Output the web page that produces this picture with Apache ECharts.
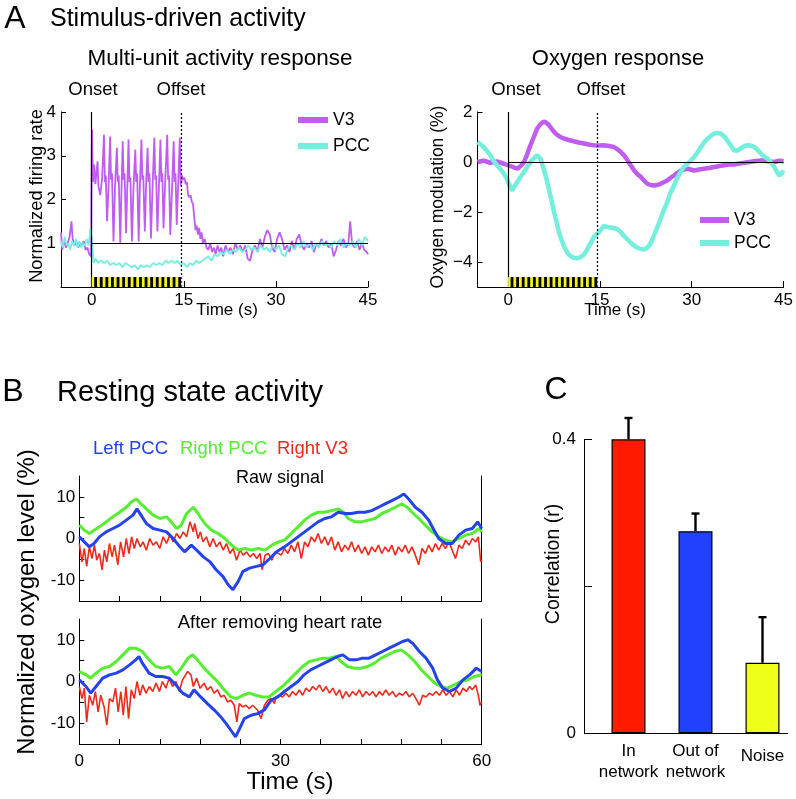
<!DOCTYPE html>
<html>
<head>
<meta charset="utf-8">
<script src="https://cdn.jsdelivr.net/npm/echarts@6/dist/echarts.min.js"></script>
<style>
html, body { margin: 0; padding: 0; background: #fff; }
#main { width: 796px; height: 799px; }
</style>
</head>
<body>
<div id="main"></div>
<script>
// ---- A: multi-unit activity (time s, normalized firing rate)
var muaV3 = [
	[-5, 1.25], [-4.8, 0.85], [-4.5, 1.05], [-4.2, 0.9], [-3.9, 1.0], [-3.6, 1.15], [-3.3, 1.5], [-3.1, 1.1], [-2.8, 0.95],
	[-2.5, 1.05], [-2.2, 0.9], [-1.9, 1.0], [-1.6, 0.95], [-1.3, 1.05], [-1.0, 0.85], [-0.7, 0.9], [-0.4, 0.75], [-0.1, 0.7],
	[0.0, 2.9], [0.05, 3.6], [0.2, 2.4], [0.4, 2.8], [0.6, 2.35], [0.95, 2.87], [1.1, 2.3], [1.4, 2.1], [1.7, 2.5],
	[2.0, 3.48], [2.15, 2.4], [2.3, 2.55], [2.5, 1.5], [2.75, 2.3],
	[3.0, 3.44], [3.15, 2.45], [3.3, 2.6], [3.55, 1.04], [3.8, 2.3],
	[4.1, 3.18], [4.25, 2.4], [4.4, 2.55], [4.65, 1.0], [4.85, 2.2],
	[5.05, 3.33], [5.2, 2.45], [5.35, 2.6], [5.6, 1.23], [5.8, 2.3],
	[6.0, 3.37], [6.15, 2.4], [6.3, 2.5], [6.55, 1.04], [6.8, 2.25],
	[7.1, 3.14], [7.25, 2.4], [7.4, 2.6], [7.65, 1.04], [7.85, 2.3],
	[8.1, 3.37], [8.25, 2.45], [8.4, 2.55], [8.65, 1.27], [8.85, 2.3],
	[9.1, 3.18], [9.25, 2.4], [9.4, 2.6], [9.65, 1.11], [9.9, 2.25],
	[10.2, 3.41], [10.35, 2.45], [10.5, 2.55], [10.7, 1.27], [10.95, 2.3],
	[11.2, 3.37], [11.35, 2.4], [11.5, 2.6], [11.7, 1.34], [11.95, 2.35],
	[12.3, 3.48], [12.45, 2.45], [12.6, 2.55], [12.8, 1.19], [13.1, 2.3],
	[13.35, 3.33], [13.5, 2.4], [13.65, 2.6], [13.85, 1.42], [14.1, 2.4],
	[14.35, 3.41], [14.5, 2.3], [14.7, 2.55], [14.9, 2.45], [15.1, 2.5], [15.3, 2.35], [15.5, 2.4], [15.7, 2.1],
	[15.9, 2.05], [16.1, 2.1], [16.3, 1.95], [16.5, 1.9], [16.7, 1.6], [16.9, 1.3], [17.1, 1.4], [17.3, 1.2],
	[17.5, 1.35], [17.7, 1.1], [17.9, 1.25], [18.1, 1.0], [18.4, 1.1], [18.7, 0.9], [19.0, 0.85], [19.3, 1.0],
	[19.6, 0.8], [19.9, 0.9], [20.2, 0.75], [20.5, 0.95], [20.8, 0.8], [21.1, 0.9], [21.4, 0.7], [21.8, 0.95],
	[22.2, 0.8], [22.6, 0.9], [23.0, 0.75], [23.4, 1.0], [23.8, 0.85], [24.2, 0.95], [24.6, 0.8], [25.0, 0.95],
	[25.4, 0.65], [25.8, 0.6], [26.2, 0.85], [26.6, 0.95], [27.0, 0.8], [27.4, 1.1], [27.8, 0.9], [28.2, 1.15],
	[28.6, 1.3], [29.0, 1.2], [29.4, 0.9], [29.8, 0.8], [30.2, 1.1], [30.6, 1.25], [31.0, 1.1], [31.4, 0.85],
	[31.8, 0.95], [32.2, 0.8], [32.6, 1.05], [33.0, 0.85], [33.4, 1.1], [33.8, 1.2], [34.2, 0.95], [34.6, 0.85],
	[35.0, 1.0], [35.4, 0.9], [35.8, 1.05], [36.2, 0.8], [36.6, 1.0], [37.0, 0.9], [37.4, 1.1], [37.8, 0.95],
	[38.2, 1.05], [38.6, 0.9], [39.0, 1.0], [39.4, 0.7], [39.8, 0.85], [40.2, 1.05], [40.6, 0.95], [41.0, 1.1],
	[41.4, 0.9], [41.8, 1.0], [42.1, 1.5], [42.4, 1.0], [42.8, 0.9], [43.2, 1.05], [43.6, 0.85], [44.0, 1.0],
	[44.4, 0.85], [44.8, 0.8], [45, 0.75]
];
var muaPCC = [
	[-5, 1.05], [-4.7, 0.9], [-4.4, 1.15], [-4.1, 0.95], [-3.8, 1.0], [-3.5, 0.85], [-3.2, 1.05], [-2.9, 0.95],
	[-2.6, 1.1], [-2.3, 0.9], [-2.0, 1.05], [-1.7, 0.9], [-1.4, 1.0], [-1.1, 0.95], [-0.8, 1.1], [-0.5, 0.95],
	[-0.2, 1.35], [0.1, 1.0], [0.3, 0.55], [0.6, 0.65], [1.0, 0.55], [1.5, 0.6], [2.0, 0.55], [2.5, 0.6], [3.0, 0.5],
	[3.5, 0.55], [4.0, 0.5], [4.5, 0.55], [5.0, 0.45], [5.5, 0.55], [6.0, 0.5], [6.5, 0.45], [7.0, 0.5], [7.5, 0.4],
	[8.0, 0.5], [8.5, 0.45], [9.0, 0.5], [9.5, 0.45], [10.0, 0.55], [10.5, 0.5], [11.0, 0.55], [11.5, 0.5], [12.0, 0.6],
	[12.5, 0.55], [13.0, 0.6], [13.5, 0.55], [14.0, 0.6], [14.5, 0.5], [15.0, 0.55], [15.5, 0.45], [16.0, 0.55],
	[16.5, 0.5], [17.0, 0.6], [17.5, 0.55], [18.0, 0.6], [18.5, 0.65], [19.0, 0.7], [19.5, 0.6], [20.0, 0.75],
	[20.5, 0.7], [21.0, 0.8], [21.5, 0.75], [22.0, 0.85], [22.5, 0.75], [23.0, 0.85], [23.5, 0.8], [24.0, 0.9],
	[24.5, 0.8], [25.0, 0.85], [25.5, 0.95], [26.0, 0.85], [26.5, 0.9], [27.0, 0.8], [27.5, 0.95], [28.0, 0.85],
	[28.5, 0.9], [29.0, 0.8], [29.5, 0.95], [30.0, 0.85], [30.5, 0.95], [31.0, 0.75], [31.5, 0.7], [32.0, 0.9],
	[32.5, 0.95], [33.0, 0.85], [33.5, 1.0], [34.0, 0.9], [34.5, 1.05], [35.0, 0.9], [35.5, 1.0], [36.0, 0.85],
	[36.5, 1.0], [37.0, 0.9], [37.5, 1.05], [38.0, 0.95], [38.5, 1.0], [39.0, 0.9], [39.5, 1.05], [40.0, 0.95],
	[40.5, 1.1], [41.0, 0.9], [41.5, 1.0], [42.0, 0.95], [42.5, 1.05], [43.0, 0.9], [43.5, 1.1], [44.0, 0.95],
	[44.5, 1.15], [45.0, 1.05]
];

// ---- A: oxygen response (time s, %)
var oxyV3 = [
	[-5, 0], [-4, 0.05], [-2.9, -0.03], [-1.8, 0.02], [-0.7, -0.07], [0, -0.13], [0.8, -0.2], [1.5, -0.27], [2.1, -0.15],
	[2.6, 0], [3.1, 0.3], [3.65, 0.67], [4.2, 1.0], [4.75, 1.34], [5.3, 1.52], [5.8, 1.61], [6.2, 1.58], [6.65, 1.48],
	[7.2, 1.3], [7.75, 1.14], [8.4, 1.02], [9.1, 0.94], [9.9, 0.88], [10.7, 0.83], [11.5, 0.78], [12.4, 0.74],
	[13.2, 0.7], [14.0, 0.67], [14.8, 0.66], [15.65, 0.67], [16.5, 0.64], [17.3, 0.6], [17.9, 0.5], [18.4, 0.4],
	[19.0, 0.25], [19.5, 0.07], [20.0, -0.12], [20.6, -0.34], [21.1, -0.48], [21.7, -0.6], [22.2, -0.74],
	[22.75, -0.87], [23.3, -0.92], [23.8, -0.94], [24.4, -0.92], [24.9, -0.87], [25.5, -0.8], [26, -0.74],
	[26.5, -0.64], [27.1, -0.54], [27.6, -0.44], [28.2, -0.34], [28.7, -0.3], [29.3, -0.27], [29.8, -0.3],
	[30.4, -0.34], [31.2, -0.3], [32, -0.27], [32.8, -0.24], [33.7, -0.2], [34.5, -0.16], [35.3, -0.13],
	[36.1, -0.1], [36.9, -0.1], [37.7, -0.06], [38.6, -0.03], [39.4, 0], [40.2, 0.03], [41, 0.05], [41.8, 0.07],
	[42.6, 0.02], [43.5, 0], [44.3, 0.05], [45, 0.03]
];
var oxyPCC = [
	[-5, 0.8], [-4.5, 0.7], [-4, 0.6], [-3.5, 0.45], [-2.9, 0.27], [-2.4, 0.05], [-1.8, -0.13], [-1.2, -0.3],
	[-0.7, -0.47], [-0.3, -0.62], [0, -0.8], [0.35, -1.0], [0.65, -1.14], [1.0, -1.0], [1.5, -0.8], [2.0, -0.6],
	[2.6, -0.4], [3.1, -0.2], [3.65, 0], [4.2, 0.15], [4.75, 0.27], [5.3, 0.13], [5.8, -0.27], [6.2, -0.6],
	[6.65, -1.07], [7.1, -1.55], [7.5, -2.0], [7.9, -2.4], [8.3, -2.8], [8.7, -3.1], [9.1, -3.36], [9.5, -3.55],
	[9.9, -3.7], [10.3, -3.78], [10.7, -3.83], [11.2, -3.85], [11.6, -3.83], [12.0, -3.78], [12.4, -3.7],
	[12.8, -3.55], [13.2, -3.36], [13.6, -3.2], [14.0, -3.0], [14.4, -2.9], [14.8, -2.82], [15.2, -2.7],
	[15.65, -2.55], [16.2, -2.6], [16.75, -2.62], [17.3, -2.65], [17.8, -2.68], [18.4, -2.8], [18.9, -2.95],
	[19.5, -3.1], [20, -3.22], [20.6, -3.35], [21.1, -3.42], [21.7, -3.48], [22.2, -3.5], [22.6, -3.45],
	[23, -3.36], [23.4, -3.2], [23.8, -2.95], [24.3, -2.65], [24.9, -2.28], [25.4, -1.95], [26, -1.6],
	[26.5, -1.25], [27.1, -0.94], [27.6, -0.65], [28.2, -0.4], [28.7, -0.2], [29.3, -0.07], [29.8, 0.05],
	[30.4, 0.2], [31, 0.4], [31.5, 0.6], [32, 0.78], [32.6, 0.94], [33.2, 1.06], [33.7, 1.14], [34.2, 1.16],
	[34.75, 1.14], [35.3, 1.02], [35.8, 0.87], [36.4, 0.65], [36.9, 0.47], [37.4, 0.45], [38, 0.54], [38.5, 0.62],
	[39.1, 0.67], [39.6, 0.66], [40.2, 0.6], [40.7, 0.5], [41.3, 0.34], [41.8, 0.22], [42.4, 0.13], [42.9, 0],
	[43.5, -0.2], [43.9, -0.38], [44.3, -0.54], [44.7, -0.45], [45, -0.34]
];
var stimOn = 0, stimOff = 14.6, stimFlashes = 16;

// ---- B: resting state, raw signal (time s, %)
var rawLeftPCC = [
	[0, 0.4], [0.75, -0.8], [1.5, -2.0], [2.2, -1.2], [3, 0.4], [4, 1.6], [5, 2.4], [6, 3.2], [7, 4.4], [8, 5.6],
	[8.6, 7.1], [9.2, 5.6], [10, 3.6], [11, 2.4], [12, 2.0], [13, 1.6], [14, 0], [15, -2.0], [15.7, -3.2],
	[16.7, -1.6], [17.5, -2.8], [18.5, -4.4], [19.5, -5.6], [20.4, -7.5], [21.4, -9.1], [22.2, -11.1],
	[22.9, -12.3], [23.7, -10.3], [24.4, -7.9], [25.4, -7.1], [26.4, -6.7], [27.4, -6.3], [28.4, -4.8],
	[29.4, -3.2], [30.6, -2.0], [31.6, -0.8], [32.6, 0.4], [33.6, 1.6], [34.6, 2.8], [35.6, 4.0], [36.6, 4.8],
	[37.6, 5.2], [38.6, 6.3], [39.6, 6.0], [40.6, 6.0], [41.6, 6.3], [42.6, 6.3], [43.6, 6.7], [44.6, 7.5],
	[45.6, 8.3], [46.6, 9.1], [47.6, 9.9], [48.4, 10.7], [49.1, 9.5], [50.1, 7.5], [51.1, 6.3], [52.1, 4.4],
	[52.9, 2.0], [53.6, 0], [54.6, -1.2], [55.6, -1.2], [56.6, 0.8], [57.6, 2.0], [58.6, 2.4], [59.4, 4.0], [60, 2.4]
];
var rawRightPCC = [
	[0, 3.2], [0.75, 2.0], [1.5, 1.2], [2.2, 2.0], [3, 2.8], [4, 4.0], [5, 5.2], [6, 6.3], [7, 7.5], [7.7, 8.7],
	[8.5, 9.5], [9.2, 8.3], [10, 7.1], [11, 5.6], [12, 4.8], [13, 5.2], [13.7, 4.0], [14.5, 2.4], [15.2, 3.2],
	[16, 6.0], [17, 7.5], [17.7, 6.0], [18.7, 3.6], [19.7, 2.0], [20.7, 1.2], [21.7, 0], [22.7, -1.6], [23.7, -2.8],
	[24.7, -2.4], [25.7, -2.8], [26.7, -2.4], [27.7, -2.8], [28.7, -1.6], [29.7, -0.8], [30.6, -0.4], [31.6, 1.2],
	[32.6, 2.8], [33.6, 4.4], [34.6, 5.6], [35.6, 6.3], [36.6, 6.3], [37.6, 6.7], [38.6, 7.1], [39.4, 6.3],
	[40.1, 4.8], [41.1, 4.0], [42.1, 4.0], [43.1, 4.4], [44.1, 4.8], [45.1, 6.0], [46.1, 6.7], [47.1, 7.5],
	[48.1, 8.3], [48.9, 7.5], [49.6, 6.3], [50.6, 4.8], [51.6, 3.2], [52.6, 1.6], [53.6, 0.4], [54.6, -0.4],
	[55.6, -0.8], [56.6, 0], [57.6, 0.8], [58.6, 1.2], [59.6, 2.4], [60, 1.6]
];
var rawRightV3 = [
	[0, -1.2], [0.4, -5.6], [0.75, -2.4], [1.1, -6.7], [1.5, -2.0], [1.9, -4.8], [2.25, -1.6], [2.6, -5.2],
	[3.0, -3.6], [3.4, -7.5], [3.75, -2.8], [4.1, -5.6], [4.5, -1.2], [4.9, -4.4], [5.25, -1.6], [5.75, -6.3],
	[6.15, -0.8], [6.6, -4.4], [7.0, 0], [7.4, -3.6], [7.8, 0.4], [8.2, -2.4], [8.6, 0], [9.1, -2.0], [9.5, -0.8],
	[10.0, -2.8], [10.5, 0], [11.0, -1.6], [11.5, -0.8], [12.0, -2.4], [12.5, 0.4], [13.0, -1.2], [13.5, 0.8],
	[14.0, -0.8], [14.5, 1.2], [15.0, 0], [15.5, 1.6], [16.0, 0.4], [16.5, 4.0], [17.0, 1.6], [17.2, 3.6],
	[17.7, 0], [18.05, 1.6], [18.45, -0.8], [18.95, 0.4], [19.45, -2.0], [19.95, 0], [20.45, -2.0], [20.95, -0.8],
	[21.45, -2.8], [21.95, -1.2], [22.45, -3.6], [22.95, -2.4], [23.45, -5.2], [23.95, -2.8], [24.45, -4.0],
	[24.95, -3.2], [25.45, -4.4], [25.95, -3.6], [26.45, -4.8], [26.95, -3.6], [27.25, -7.5], [27.7, -4.0],
	[28.2, -3.6], [28.7, -5.2], [29.2, -3.2], [29.7, -3.6], [30.1, -4.0], [30.6, -2.4], [31.1, -3.6], [31.6, -1.6],
	[32.1, -3.2], [32.6, -0.8], [33.1, -4.8], [33.6, -0.8], [34.1, -2.0], [34.6, 0.4], [35.1, -0.8], [35.6, 1.2],
	[36.1, -1.2], [36.6, 0.4], [37.1, -1.6], [37.6, 0.4], [38.1, -2.8], [38.6, -0.8], [39.1, -3.2], [39.6, -1.6],
	[40.1, -2.8], [40.6, -0.8], [41.1, -3.2], [41.6, -1.6], [42.1, -3.6], [42.6, -2.0], [43.1, -4.0], [43.6, -2.0],
	[44.1, -3.2], [44.6, -1.6], [45.1, -3.6], [45.6, -2.0], [46.1, -3.2], [46.6, -1.6], [47.1, -4.0], [47.6, -2.0],
	[48.1, -3.2], [48.6, -1.6], [49.1, -3.6], [49.6, -2.0], [50.1, -4.0], [50.6, -6.3], [51.1, -2.4], [51.6, -3.6],
	[52.1, -1.6], [52.6, -3.2], [53.1, -1.2], [53.6, -2.8], [54.1, -1.2], [54.6, -2.4], [55.1, -0.8], [55.6, -2.8],
	[56.1, -4.8], [56.6, -1.6], [57.1, -2.4], [57.6, -0.4], [58.1, -1.6], [58.6, 0], [59.1, -0.8], [59.5, 0.4],
	[59.85, -5.6], [60, -5.2]
];

// ---- B: after removing heart rate
var cleanLeftPCC = [
	[0, 0.4], [1, -1.2], [1.7, -2.8], [2.5, -1.2], [3.5, 0.8], [4.5, 1.6], [5.5, 2.0], [6.5, 2.8], [7.5, 4.0],
	[8.4, 5.2], [8.9, 6.0], [9.4, 4.4], [10.4, 2.0], [11.4, 1.2], [12.4, 1.2], [13.4, 0.8], [14.4, -0.8],
	[15.4, -2.8], [16.4, -3.7], [17.1, -2.0], [18.1, -3.7], [19.1, -5.3], [20.1, -6.8], [21.1, -8.5],
	[21.9, -10.1], [22.6, -11.7], [23.3, -13.3], [23.9, -11.3], [24.6, -8.9], [25.6, -8.1], [26.6, -7.7],
	[27.6, -6.8], [28.6, -4.5], [29.6, -3.7], [30.6, -2.4], [31.6, -1.2], [32.6, 0], [33.5, 1.6], [34.5, 2.8],
	[35.5, 3.6], [36.5, 4.4], [37.5, 5.2], [38.5, 6.0], [39.3, 6.4], [40.3, 5.2], [41.3, 5.2], [42.2, 5.6],
	[43.2, 5.6], [44.2, 6.4], [45.2, 7.2], [46.2, 8.0], [47.2, 8.8], [48.2, 9.6], [49, 10.0], [49.7, 9.2],
	[50.7, 7.2], [51.7, 5.6], [52.7, 3.2], [53.4, 0.4], [54.2, -1.6], [55.2, -2.4], [56.2, -1.6], [57.2, 0.4],
	[58.2, 1.6], [59.2, 3.2], [60, 2.4]
];
var cleanRightPCC = [
	[0, 2.4], [1, 1.6], [1.7, 0.8], [2.5, 2.0], [3.5, 3.2], [4.5, 3.6], [5.5, 4.8], [6.5, 6.4], [7.5, 8.0],
	[8.4, 8.0], [9.4, 7.2], [10.4, 5.2], [11.4, 3.6], [12.4, 3.2], [13.4, 3.6], [14.4, 1.6], [15.2, 3.2],
	[16.2, 5.6], [16.9, 6.4], [17.6, 5.2], [18.6, 3.2], [19.6, 1.6], [20.6, 0], [21.6, -2.0], [22.6, -3.7],
	[23.4, -4.1], [24.4, -3.3], [25.3, -2.8], [26.3, -3.3], [27.3, -3.7], [28.3, -3.7], [29.3, -2.4],
	[30.3, -1.2], [31.3, 0.4], [32.3, 2.0], [33.3, 3.6], [34.3, 4.8], [35.3, 5.2], [36.3, 5.6], [37.3, 5.6],
	[38.3, 6.0], [39, 4.8], [40, 3.6], [41, 3.2], [42, 3.2], [43, 3.6], [44, 4.4], [45, 5.6], [46, 6.4],
	[47, 7.2], [48, 7.6], [49, 6.4], [50, 4.8], [51, 2.8], [52, 1.2], [53, -0.4], [53.9, -1.2], [54.9, -1.6],
	[55.9, -0.8], [56.9, 0], [57.9, 0.4], [58.9, 1.2], [60, 1.6]
];
var cleanRightV3 = [
	[0, -1.2], [0.4, -4.1], [0.75, -1.6], [1.1, -9.7], [1.5, -3.3], [2.0, -5.7], [2.4, -2.4], [2.8, -7.3],
	[3.2, -3.3], [3.7, -6.1], [4.1, -10.5], [4.5, -4.1], [5.0, -4.9], [5.4, -1.6], [5.8, -7.3], [6.2, -2.4],
	[6.55, -8.1], [6.95, -1.2], [7.35, -8.9], [7.75, -2.0], [8.2, -4.1], [8.6, 0], [9.05, -3.3], [9.45, -0.8],
	[9.95, -2.8], [10.45, -1.2], [10.95, -2.4], [11.45, -0.4], [11.95, -2.4], [12.4, 0], [12.9, -1.6],
	[13.4, 0.8], [13.9, -1.2], [14.4, 0], [14.9, -2.4], [15.4, 0.4], [16.15, 2.4], [16.65, 1.6], [17.0, -1.2],
	[17.5, 0.8], [18.0, -1.6], [18.6, -0.4], [19.1, -2.0], [19.6, -1.2], [20.1, -2.8], [20.6, -2.0], [21.1, -3.7],
	[21.6, -3.3], [22.1, -4.9], [22.6, -4.5], [23.1, -5.7], [23.5, -9.7], [23.85, -5.3], [24.35, -6.1],
	[24.85, -5.7], [25.35, -6.5], [25.85, -5.7], [26.6, -6.9], [27.1, -8.9], [27.6, -5.7], [28.1, -4.5],
	[28.6, -4.1], [29.1, -5.3], [29.3, -3.7], [29.8, -3.3], [30.3, -3.7], [30.8, -2.8], [31.3, -3.7], [31.8, -2.4],
	[32.3, -3.3], [32.8, -2.0], [33.3, -3.3], [33.8, -1.6], [34.3, -2.4], [34.8, -1.2], [35.3, -2.0], [35.8, -0.8],
	[36.3, -2.4], [36.8, -1.2], [37.3, -2.8], [37.8, -1.6], [38.3, -3.3], [38.8, -2.0], [39.25, -4.1], [39.75, -2.4],
	[40.25, -3.7], [40.75, -2.4], [41.25, -3.3], [41.75, -2.0], [42.25, -3.7], [42.75, -2.4], [43.25, -3.3],
	[43.75, -2.4], [44.25, -3.7], [44.75, -2.4], [45.2, -3.3], [45.7, -2.0], [46.2, -3.3], [46.7, -2.4],
	[47.2, -3.7], [47.7, -2.8], [48.2, -3.3], [48.7, -2.4], [49.2, -3.7], [49.7, -2.8], [50.2, -4.1], [50.7, -5.7],
	[51.2, -3.3], [51.7, -3.7], [52.2, -2.8], [52.7, -3.3], [53.2, -2.4], [53.7, -3.3], [54.2, -2.0], [54.7, -3.3],
	[55.2, -2.4], [55.7, -3.7], [56.2, -2.0], [56.7, -3.3], [57.2, -1.6], [57.7, -2.4], [58.2, -1.2], [58.6, -2.0],
	[59.1, -0.8], [59.5, -3.3], [59.75, -5.7], [60, -4.9]
];

// ---- C: correlation
var barNames = ['In\nnetwork', 'Out of\nnetwork', 'Noise'];
var barValues = [0.40, 0.275, 0.096];
var barErrTop = [0.429, 0.299, 0.158];
var barColors = ['#ff1a00', '#2141ff', '#eeff18'];

var FONT = '"Liberation Sans", Arial, Helvetica, sans-serif';
var cV3 = '#c05cef', cPCC = '#74eedd';
var cBlue = '#2443ef', cGreen = '#55ef30', cRed = '#f02a18';

function blackAxis(extra) {
	var a = {
		axisLine: { show: true, onZero: false, lineStyle: { color: '#000', width: 1 } },
		axisTick: { show: true, inside: true, length: 5, lineStyle: { color: '#000' } },
		axisLabel: { color: '#000', fontSize: 17, fontFamily: FONT, margin: 5 },
		splitLine: { show: false }
	};
	for (var k in extra) {
		if (typeof extra[k] === 'object' && a[k] && !Array.isArray(extra[k])) {
			for (var j in extra[k]) a[k][j] = extra[k][j];
		} else a[k] = extra[k];
	}
	return a;
}

function minusSign(v) {
	return v < 0 ? '\u2212' + (-v) : '' + v;
}

function lineSeries(name, data, xi, color, width) {
	return {
		name: name, type: 'line', xAxisIndex: xi, yAxisIndex: xi, data: data,
		showSymbol: false, symbol: 'none', silent: true,
		lineStyle: { color: color, width: width }, itemStyle: { color: color }
	};
}

function stimBar(xi, yBase) {
	return {
		type: 'custom', xAxisIndex: xi, yAxisIndex: xi, silent: true, z: 6,
		data: [[stimOn, stimOff, yBase]],
		renderItem: function(params, api) {
			var p0 = api.coord([api.value(0), api.value(2)]);
			var p1 = api.coord([api.value(1), api.value(2)]);
			var h = 10, w = p1[0] - p0[0], step = w / stimFlashes;
			var kids = [{ type: 'rect', shape: { x: p0[0], y: p0[1] - h, width: w, height: h }, style: { fill: '#f4f41c' } }];
			for (var i = 0; i < stimFlashes; i++) {
				kids.push({ type: 'rect', shape: { x: p0[0] + i * step + step * 0.45, y: p0[1] - h, width: step * 0.5, height: h }, style: { fill: '#000' } });
			}
			return { type: 'group', children: kids };
		}
	};
}

function refLines(xi, yMin, yMax, yRef) {
	return {
		type: 'scatter', xAxisIndex: xi, yAxisIndex: xi, data: [], silent: true, z: 8,
		markLine: {
			silent: true, symbol: ['none', 'none'], label: { show: false }, animation: false,
			data: [
				[{ coord: [stimOn, yMin], lineStyle: { color: '#000', width: 1.2, type: 'solid' } }, { coord: [stimOn, yMax] }],
				[{ coord: [stimOff, yMin], lineStyle: { color: '#000', width: 1.2, type: [2, 2] } }, { coord: [stimOff, yMax] }],
				[{ coord: [stimOn, yRef], lineStyle: { color: '#000', width: 1.2, type: 'solid' } }, { coord: [45, yRef] }]
			]
		}
	};
}

function txt(x, y, text, size, opt) {
	opt = opt || {};
	return {
		type: 'text', x: x, y: y, rotation: opt.rot || 0, silent: true, z: 20,
		style: {
			text: text, fill: opt.color || '#000', font: size + 'px ' + FONT,
			align: opt.align || 'center', verticalAlign: 'middle'
		}
	};
}

var Chart = echarts.init(document.getElementById('main'), null, { renderer: 'canvas' });

var option = {
	animation: false,
	backgroundColor: '#fff',
	grid: [
		{ left: 61, top: 112, width: 307, height: 175 },
		{ left: 477.5, top: 112, width: 306.5, height: 175 },
		{ left: 79.3, top: 476, width: 402.4, height: 125 },
		{ left: 79.3, top: 619, width: 402.4, height: 125 },
		{ left: 595, top: 439.3, width: 201, height: 294 }
	],
	legend: [
		{ data: ['V3', 'PCC'], orient: 'vertical', left: 293, top: 106, icon: 'rect', itemWidth: 30, itemHeight: 6, itemGap: 8, selectedMode: false, textStyle: { fontSize: 17.5, color: '#000', fontFamily: FONT } },
		{ data: ['V3', 'PCC'], orient: 'vertical', left: 695, top: 206, icon: 'rect', itemWidth: 29, itemHeight: 6, itemGap: 5, selectedMode: false, textStyle: { fontSize: 17.5, color: '#000', fontFamily: FONT } }
	],
	xAxis: [
		blackAxis({ gridIndex: 0, type: 'value', min: -5, max: 45, axisTick: { customValues: [0, 15, 30, 45], length: 6 }, axisLabel: { customValues: [0, 15, 30, 45], margin: 5 } }),
		blackAxis({ gridIndex: 1, type: 'value', min: -5, max: 45, axisTick: { customValues: [0, 15, 30, 45], length: 6 }, axisLabel: { customValues: [0, 15, 30, 45], margin: 5 } }),
		blackAxis({ gridIndex: 2, type: 'value', min: 0, max: 60, interval: 6, axisLabel: { show: false } }),
		blackAxis({ gridIndex: 3, type: 'value', min: 0, max: 60, interval: 6, axisLabel: { customValues: [0, 30, 60], fontSize: 17, margin: 9 } }),
		{
			gridIndex: 4, type: 'category', data: barNames,
			axisLine: { show: false }, axisTick: { show: false }, splitLine: { show: false },
			axisLabel: {
				color: '#000', fontSize: 17, fontFamily: FONT, lineHeight: 21, margin: 8, interval: 0,
				formatter: function(v) { return v === 'Noise' ? '{n|Noise}' : v; },
				rich: { n: { fontSize: 17, fontFamily: FONT, color: '#000', padding: [10, 0, 0, 0] } }
			}
		}
	],
	yAxis: [
		blackAxis({ gridIndex: 0, type: 'value', min: 0, max: 4, interval: 1, axisLabel: { showMinLabel: false } }),
		blackAxis({ gridIndex: 1, type: 'value', min: -5, max: 2, axisTick: { customValues: [-4, -2, 0, 2] }, axisLabel: { customValues: [-4, -2, 0, 2], formatter: minusSign } }),
		blackAxis({ gridIndex: 2, type: 'value', min: -15, max: 15, axisTick: { customValues: [-10, -5, 0, 5, 10] }, axisLabel: { customValues: [-10, 0, 10], fontSize: 17, margin: 4 } }),
		blackAxis({ gridIndex: 3, type: 'value', min: -15, max: 15, axisTick: { customValues: [-10, -5, 0, 5, 10] }, axisLabel: { customValues: [-10, 0, 10], fontSize: 17, margin: 4 } }),
		blackAxis({ gridIndex: 4, type: 'value', min: 0, max: 0.4, interval: 0.2, offset: 11, axisTick: { length: 8 }, axisLabel: { fontSize: 17, margin: 8, formatter: function(v) { return v === 0.2 ? '' : '' + v; } } }),
		blackAxis({ gridIndex: 2, type: 'value', position: 'right', min: -15, max: 15, axisTick: { show: false }, axisLabel: { show: false } }),
		blackAxis({ gridIndex: 3, type: 'value', position: 'right', min: -15, max: 15, axisTick: { show: false }, axisLabel: { show: false } })
	],
	series: [
		lineSeries('V3', muaV3, 0, cV3, 1.8),
		lineSeries('PCC', muaPCC, 0, cPCC, 1.8),
		stimBar(0, 0),
		refLines(0, 0, 4, 1),
		lineSeries('V3', oxyV3, 1, cV3, 4.5),
		lineSeries('PCC', oxyPCC, 1, cPCC, 4.5),
		stimBar(1, -5),
		refLines(1, -5, 2, 0),
		lineSeries('Right V3', rawRightV3, 2, cRed, 1.6),
		lineSeries('Right PCC', rawRightPCC, 2, cGreen, 3),
		lineSeries('Left PCC', rawLeftPCC, 2, cBlue, 3),
		lineSeries('Right V3', cleanRightV3, 3, cRed, 1.6),
		lineSeries('Right PCC', cleanRightPCC, 3, cGreen, 3),
		lineSeries('Left PCC', cleanLeftPCC, 3, cBlue, 3),
		{
			name: 'Correlation', type: 'bar', xAxisIndex: 4, yAxisIndex: 4, barWidth: 34, silent: true,
			data: barValues.map(function(v, i) {
				return { value: v, itemStyle: { color: barColors[i], borderColor: '#000', borderWidth: 1.2 } };
			})
		},
		{
			type: 'custom', xAxisIndex: 4, yAxisIndex: 4, silent: true, z: 10,
			data: barValues.map(function(v, i) { return [i, v, barErrTop[i]]; }),
			renderItem: function(params, api) {
				var b = api.coord([api.value(0), api.value(1)]);
				var t = api.coord([api.value(0), api.value(2)]);
				var st = { stroke: '#000', lineWidth: 2.4 };
				return {
					type: 'group', children: [
						{ type: 'line', shape: { x1: b[0], y1: b[1], x2: t[0], y2: t[1] }, style: st },
						{ type: 'line', shape: { x1: t[0] - 4, y1: t[1], x2: t[0] + 4, y2: t[1] }, style: st }
					]
				};
			}
		}
	],
	graphic: [
		txt(15, 19, 'A', 32),
		txt(50, 19, 'Stimulus-driven activity', 25, { align: 'left' }),
		txt(220, 59, 'Multi-unit activity response', 22.5),
		txt(618, 59, 'Oxygen response', 22),
		txt(93, 90, 'Onset', 18.5),
		txt(181, 90, 'Offset', 18.5),
		txt(516, 90, 'Onset', 18.5),
		txt(601, 90, 'Offset', 18.5),
		txt(227, 310, 'Time (s)', 17),
		txt(615, 310, 'Time (s)', 17),
		txt(37, 196, 'Normalized firing rate', 18.3, { rot: Math.PI / 2 }),
		txt(438, 197, 'Oxygen modulation (%)', 17.5, { rot: Math.PI / 2 }),
		txt(13, 392, 'B', 32),
		txt(57, 393, 'Resting state activity', 29, { align: 'left' }),
		txt(93, 449, 'Left PCC', 18.5, { align: 'left', color: cBlue }),
		txt(180, 449, 'Right PCC', 18.5, { align: 'left', color: cGreen }),
		txt(277, 449, 'Right V3', 18.5, { align: 'left', color: cRed }),
		txt(280, 478, 'Raw signal', 18),
		txt(280, 623, 'After removing heart rate', 18.5),
		txt(290, 782, 'Time (s)', 24),
		txt(27, 602, 'Normalized oxygen level (%)', 24, { rot: Math.PI / 2 }),
		txt(556, 390, 'C', 32),
		txt(554, 564, 'Correlation (r)', 19.5, { rot: Math.PI / 2 }),
		{ type: 'line', silent: true, z: 20, shape: { x1: 584, y1: 733.5, x2: 788, y2: 733.5 }, style: { stroke: '#000', lineWidth: 1 } }
	]
};

Chart.setOption(option);
</script>
</body>
</html>
